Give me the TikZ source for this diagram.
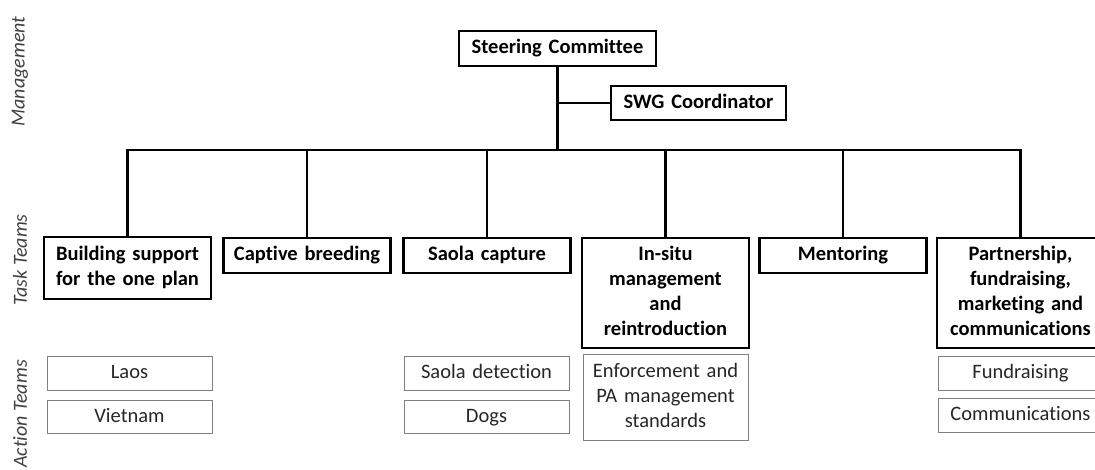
\documentclass[tikz,border=0pt]{standalone}
\usepackage{fontspec}
\setmainfont{Carlito}[Ligatures=NoCommon]
\begin{document}
\begin{tikzpicture}[x=1pt,y=-1pt,
  task/.style={draw,line width=2.4pt,anchor=north,align=center,text width=161pt,inner xsep=3pt,minimum height=35pt,font=\fontsize{20.5}{25}\selectfont\bfseries,execute at begin node=\strut,execute at end node=\strut},
  action/.style={draw=black!50,line width=1pt,anchor=north,align=center,text width=159pt,inner xsep=3pt,minimum height=34pt,text=black!85,font=\fontsize{20.5}{25}\selectfont,execute at begin node=\strut,execute at end node=\strut},
  side/.style={rotate=90,text=black!75,font=\fontsize{20}{24}\selectfont\itshape},
  link/.style={line width=2.4pt}]
\useasboundingbox (0,0) rectangle (1095,470);
% management
\node[task,text width=191pt](sc) at (557.5,30){Steering Committee};
\node[task,text width=169pt,minimum height=34pt](swg) at (698.5,85){SWG Coordinator};
\coordinate (bus) at (558,150);
% task teams
\node[task,minimum height=62pt](t1) at (127.5,236){Building support\\for the one plan};
\node[task](t2) at (307,237){Captive breeding};
\node[task](t3) at (487,237){Saola capture};
\node[task,minimum height=110pt](t4) at (665.5,237){In-situ\\management\\and\\reintroduction};
\node[task](t5) at (843,237){Mentoring};
\node[task,minimum height=110pt](t6) at (1020.5,237){Partnership,\\fundraising,\\marketing and\\communications};
% action teams
\node[action](a1) at (129.5,356){Laos};
\node[action,minimum height=33pt](a2) at (129.5,400){Vietnam};
\node[action](a3) at (486.5,356){Saola detection};
\node[action,minimum height=33pt](a4) at (486.5,400){Dogs};
\node[action,minimum height=86pt](a5) at (665.5,354){Enforcement and\\PA management\\standards};
\node[action](a6) at (1020.5,356){Fundraising};
\node[action](a7) at (1020.5,398){Communications};
% connectors
\draw[link] (sc.south)--(sc.south |- bus);
\draw[link] (swg.west)--(swg.west -| sc.south);
\draw[link] (t1.north)--(t1.north |- bus)--(t6.north |- bus)--(t6.north);
\foreach \t in {t2,t3,t4,t5} \draw[link] (\t.north)--(\t.north |- bus);
% side labels
\node[side](lm) at (20,71.5){Management};
\node[side](lt) at (20,260){Task Teams};
\node[side](la) at (20,414){Action Teams};
\end{tikzpicture}
\end{document}
